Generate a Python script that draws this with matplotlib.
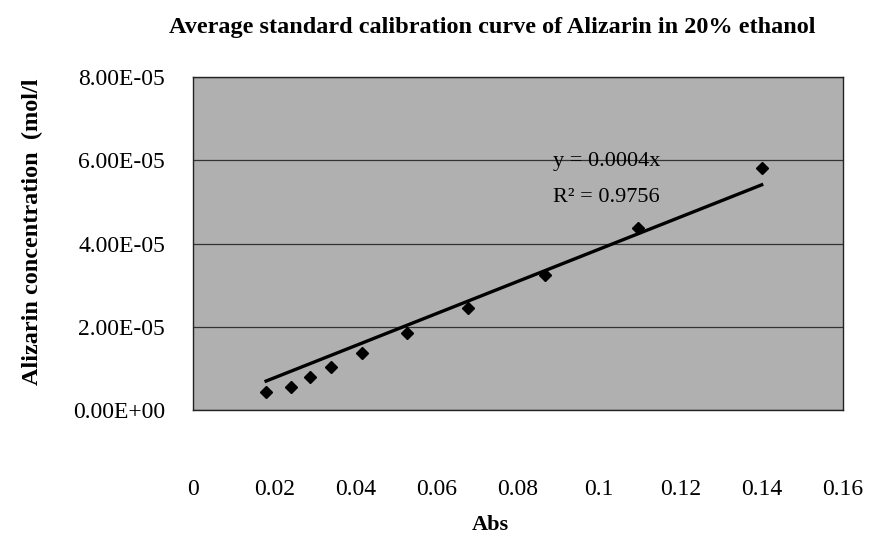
import numpy as np
import matplotlib
matplotlib.use("Agg")
import matplotlib.pyplot as plt

# Data
abs_values = [0.018, 0.0241, 0.0288, 0.034, 0.0416, 0.0527, 0.0677, 0.0866, 0.1096, 0.140]
conc_values = [4.3e-6, 5.5e-6, 7.9e-6, 1.03e-5, 1.37e-5, 1.85e-5, 2.45e-5, 3.25e-5, 4.37e-5, 5.82e-5]
x_ticks = [0, 0.02, 0.04, 0.06, 0.08, 0.1, 0.12, 0.14, 0.16]
x_tick_labels = ["0", "0.02", "0.04", "0.06", "0.08", "0.1", "0.12", "0.14", "0.16"]
y_ticks = [0, 2e-5, 4e-5, 6e-5, 8e-5]
y_tick_labels = ["0.00E+00", "2.00E-05", "4.00E-05", "6.00E-05", "8.00E-05"]
title = "Average standard calibration curve of Alizarin in 20% ethanol"
x_label = "Abs"
y_label = "Alizarin concentration  (mol/l"
eq_text = "y = 0.0004x"
r2_text = "R\u00b2 = 0.9756"

serif = ["Liberation Serif", "DejaVu Serif"]

fig = plt.figure(figsize=(8.69, 5.37), dpi=100)
fig.patch.set_facecolor("white")
ax = fig.add_axes([0.2221, 0.2365, 0.7479, 0.6201])
ax.set_facecolor("#b0b0b0")

x = np.array(abs_values)
y = np.array(conc_values)
# linear trendline through origin
slope = np.sum(x * y) / np.sum(x * x)
xl = np.array([x.min(), x.max()])
ax.plot(xl, slope * xl, color="black", lw=2.4, zorder=3)
ax.plot(x, y, linestyle="none", marker="D", ms=6.5, color="black", zorder=4)

ax.set_xlim(0, 0.16)
ax.set_ylim(0, 8e-5)
ax.set_xticks(x_ticks)
ax.set_xticklabels(x_tick_labels, fontfamily=serif, fontsize=17)
ax.set_yticks(y_ticks)
ax.set_yticklabels(y_tick_labels, fontfamily=serif, fontsize=17)
ax.tick_params(axis="both", length=0)
ax.tick_params(axis="x", pad=50)
ax.tick_params(axis="y", pad=20)

ax.yaxis.grid(True, color="#333333", lw=0.9)
ax.xaxis.grid(False)
for s in ax.spines.values():
    s.set_color("#222222")
    s.set_linewidth(1.0)

ax.text(0.0886, 5.96e-5, eq_text, fontfamily=serif, fontsize=16, ha="left", va="center", zorder=5)
ax.text(0.0886, 5.1e-5, r2_text, fontfamily=serif, fontsize=16, ha="left", va="center", zorder=5)

fig.text(0.566, 0.948, title, fontfamily=serif, fontsize=17.5, fontweight="bold", ha="center", va="center")
fig.text(0.564, 0.022, x_label, fontfamily=serif, fontsize=16, fontweight="bold", ha="center", va="center")
fig.text(0.037, 0.568, y_label, fontfamily=serif, fontsize=17.5, fontweight="bold", ha="center", va="center", rotation=90)

fig.savefig("out.png", dpi=100)
